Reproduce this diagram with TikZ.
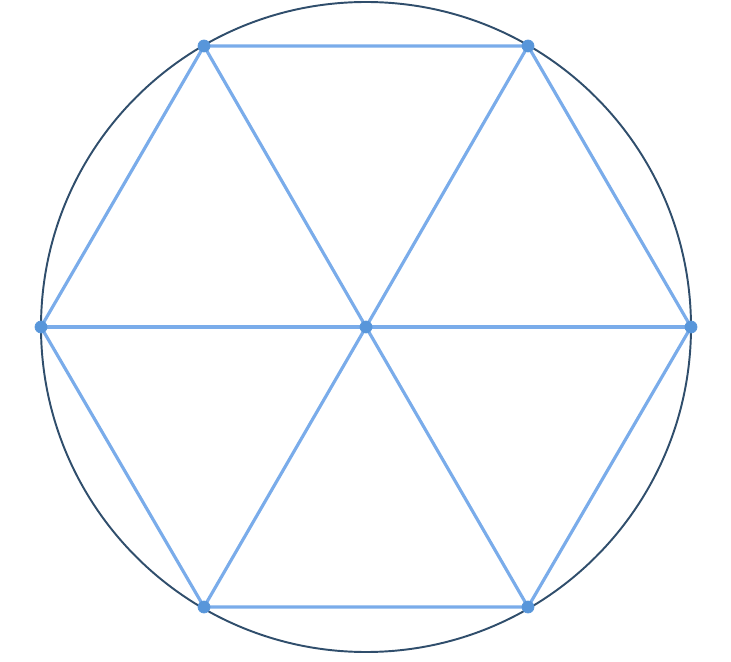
\documentclass[tikz,border=0pt]{standalone}
\usepackage{tikz}
\usetikzlibrary{calc}
\definecolor{kante}{RGB}{122,172,234}
\definecolor{punkt}{RGB}{88,150,218}
\definecolor{kreis}{RGB}{48,78,108}
\begin{document}
\begin{tikzpicture}[x=0.02cm,y=-0.02cm]
\useasboundingbox (0,0) rectangle (731,662);
%外接円%
\draw[kreis, line width=1.1pt] (366,327) circle (325);
%頂点%
\coordinate (O) at (366,327);
\coordinate (A) at (691,327);
\coordinate (B) at (528,46);
\coordinate (C) at (204,46);
\coordinate (D) at (41,327);
\coordinate (E) at (204,607);
\coordinate (F) at (528,607);
%六角形%
\draw[kante, line width=1.8pt] (A) -- (B) -- (C) -- (D) -- (E) -- (F) -- cycle;
%中心からの線%
\draw[kante, line width=1.8pt] (O) -- (A);
\draw[kante, line width=1.8pt] (O) -- (B);
\draw[kante, line width=1.8pt] (O) -- (C);
\draw[kante, line width=1.8pt] (O) -- (D);
\draw[kante, line width=1.8pt] (O) -- (E);
\draw[kante, line width=1.8pt] (O) -- (F);
%点%
\filldraw[fill=punkt, draw=punkt] (O) circle (6);
\filldraw[fill=punkt, draw=punkt] (A) circle (6);
\filldraw[fill=punkt, draw=punkt] (B) circle (6);
\filldraw[fill=punkt, draw=punkt] (C) circle (6);
\filldraw[fill=punkt, draw=punkt] (D) circle (6);
\filldraw[fill=punkt, draw=punkt] (E) circle (6);
\filldraw[fill=punkt, draw=punkt] (F) circle (6);
\end{tikzpicture}
\end{document}
